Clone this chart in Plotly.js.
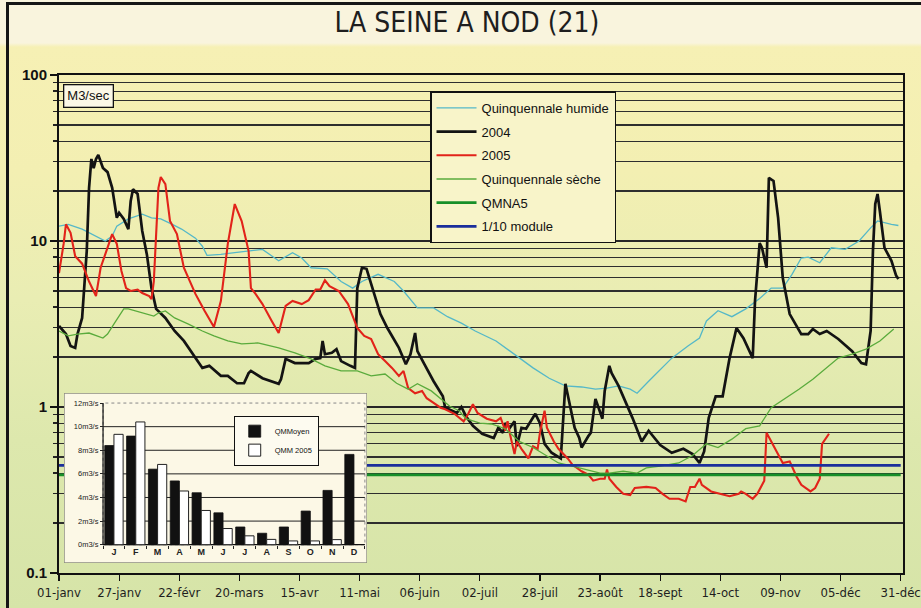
<!DOCTYPE html>
<html>
<head>
<meta charset="utf-8">
<script src="https://cdn.plot.ly/plotly-3.0.1.min.js"></script>
<style>
html,body{margin:0;padding:0;background:#fff;}
#chart{position:relative;width:921px;height:608px;overflow:hidden;
background:linear-gradient(to bottom,#f9f4dd 0px,#f9f4dd 43px,#f6f0b4 47px,#f3efb2 170px,#e9edb3 300px,#dde8ad 440px,#d6e4a8 608px);}
#chart::after{content:"";position:absolute;left:6px;top:2px;width:930px;height:630px;border-top:3px solid #151515;border-left:3px solid #151515;pointer-events:none;z-index:20;}
</style>
</head>
<body>
<div id="chart"></div>
<script>
// ---- main chart data (day of year, flow m3/s) ----
var tickDays = [0,26,52,78,104,130,156,182,208,234,260,286,312,338,364];
var tickLabels = ['01-janv','27-janv','22-févr','20-mars','15-avr','11-mai','06-juin','02-juil','28-juil','23-août','18-sept','14-oct','09-nov','05-déc','31-déc'];

var daysHum = [0,4,10,16,20,23,25,30,36,40,44,49,53,59,62,64,70,76,82,88,95,101,105,109,116,122,127,131,138,145,149,155,162,168,174,180,189,198,205,212,219,226,232,237,242,247,250,255,261,265,272,277,280,285,291,297,303,308,313,317,321,324,329,334,340,346,351,354,360,363];
var qHum = [12.3,12.6,11.8,10.7,10.0,10.7,12.3,13.6,14.5,13.8,13.6,12.6,11.8,10.4,9.3,8.2,8.3,8.5,8.7,8.9,7.6,8.5,7.9,6.9,6.8,5.7,5.2,5.7,6.3,5.7,5.0,3.95,3.95,3.5,3.2,2.87,2.5,2.03,1.72,1.49,1.34,1.32,1.28,1.30,1.34,1.28,1.21,1.43,1.72,1.97,2.33,2.6,3.3,3.8,3.5,3.9,4.5,5.2,5.2,6.3,7.9,8.0,7.4,9.1,8.9,10.0,12.0,13.2,12.6,12.4];

var days2004 = [0,3,5,7,8,10,12,13,14,15,16,17,19,21,23,25,26,28,30,31,32,34,36,38,40,42,46,50,54,59,62,65,70,73,77,80,82,83,88,95,96,98,102,108,111,113,114,115,118,120,122,126,128,129,131,133,135,139,142,147,150,152,154,155,158,162,166,167,170,172,174,176,179,183,188,190,192,193,195,197,198,200,202,206,208,210,213,217,219,221,223,225,226,229,230,232,235,236,238,239,242,248,252,255,260,265,270,274,277,279,281,284,287,290,293,296,300,301,303,304,306,307,309,311,313,316,321,324,326,329,332,337,343,347,349,351,352,353,354,355,357,360,362,363];
var q2004 = [3.08,2.75,2.33,2.27,2.75,3.44,8.7,20.9,31.2,27.5,31.2,33,27.5,26,20.9,13.8,14.8,13.6,11.8,17.4,20.5,19.2,11.5,8.3,5.2,3.9,3.44,2.87,2.5,1.97,1.72,1.77,1.54,1.54,1.39,1.39,1.6,1.65,1.49,1.38,1.47,1.95,1.84,1.84,1.95,1.97,2.5,2.08,2.12,2.23,1.89,1.77,1.72,5.2,6.9,6.8,5.5,3.63,2.99,2.27,1.81,2.08,2.79,2.17,1.81,1.43,1.16,0.99,0.95,0.92,1.0,0.88,0.77,0.69,0.65,0.75,0.70,0.80,0.75,0.82,0.58,0.75,0.74,0.91,0.80,0.60,0.53,0.49,1.38,1.04,0.75,0.65,0.57,0.67,0.70,1.12,0.85,1.25,1.77,1.6,1.34,0.86,0.62,0.72,0.59,0.53,0.56,0.52,0.46,0.54,0.86,1.16,1.16,1.97,2.99,2.6,1.97,4.35,9.7,9.1,6.9,24,23,13.8,6.0,3.63,2.75,2.75,2.95,2.75,2.87,2.57,2.17,1.84,1.81,2.87,8.7,16.7,19.2,15.1,9.1,7.6,6.2,5.9];

var days2005 = [0,2,3,5,7,10,13,16,18,21,23,25,27,29,31,34,36,39,40,41,43,44,46,48,51,54,59,63,66,67,70,73,76,79,82,83,85,88,92,95,98,101,105,108,111,113,115,117,121,125,129,132,135,138,141,144,147,149,151,154,157,159,162,165,167,171,175,177,179,181,185,189,191,193,194,195,197,198,200,203,205,207,208,210,211,214,216,220,222,226,229,231,234,236,237,238,241,244,247,249,254,258,261,264,268,271,273,275,277,278,282,286,290,294,295,297,300,302,304,305,306,308,310,313,316,319,321,325,327,329,330,333];
var q2005 = [6.4,9.6,12.6,11.2,8.1,7.3,5.7,4.66,6.9,9.1,11,9.6,6.6,5.2,5.0,5.1,4.86,4.66,4.47,5.7,20.9,24.3,22,13.2,11,6.9,4.8,3.79,3.2,3.03,4.35,9.6,16.7,13.2,8.7,5.2,4.8,4.17,3.3,2.79,4.06,4.35,4.17,4.4,5.1,5.1,5.8,5.35,5.0,4.17,2.99,2.68,2.57,2.08,1.89,1.72,1.54,1.65,1.30,1.21,1.25,1.13,1.06,0.99,0.97,0.91,0.82,0.91,1.04,0.92,0.85,0.82,0.86,0.72,0.82,0.69,0.52,0.62,0.56,0.49,0.58,0.56,0.70,0.95,0.75,0.62,0.56,0.49,0.45,0.41,0.39,0.36,0.37,0.37,0.42,0.37,0.33,0.30,0.295,0.325,0.33,0.325,0.30,0.28,0.28,0.27,0.33,0.33,0.37,0.34,0.31,0.30,0.29,0.30,0.31,0.30,0.28,0.30,0.34,0.36,0.70,0.62,0.56,0.46,0.47,0.38,0.34,0.31,0.325,0.37,0.60,0.69];

var daysSec = [0,4,8,13,19,21,24,28,30,36,41,43,46,50,56,62,67,73,79,86,95,102,109,115,122,129,135,141,146,151,155,161,165,169,173,176,182,187,193,199,205,211,216,222,228,234,238,244,250,254,260,264,268,274,280,285,291,297,303,308,314,320,326,332,337,343,349,355,361];
var qSec = [2.87,2.68,2.75,2.79,2.6,2.75,3.2,3.9,3.9,3.68,3.53,3.68,3.79,3.44,3.16,2.87,2.68,2.5,2.4,2.43,2.27,2.12,1.95,1.77,1.65,1.65,1.54,1.58,1.39,1.28,1.38,1.25,1.12,1.01,0.95,0.85,0.80,0.79,0.74,0.62,0.57,0.51,0.46,0.44,0.42,0.40,0.40,0.41,0.40,0.43,0.44,0.45,0.46,0.51,0.60,0.57,0.64,0.74,0.77,0.99,1.12,1.28,1.47,1.72,1.97,2.08,2.23,2.5,2.95];

var qmna5 = 0.39;
var module10 = 0.445;

var yTickVals = [0.1,1,10,100];
var yTickText = ['0.1','1','10','100'];
var yMinorVals = [0.2,0.3,0.4,0.5,0.6,0.7,0.8,0.9,2,3,4,5,6,7,8,9,20,30,40,50,60,70,80,90];

// ---- inset chart data ----
var months = ['J','F','M','A','M','J','J','A','S','O','N','D'];
var monthIdx = [0,1,2,3,4,5,6,7,8,9,10,11];
var qmMoyen = [8.4,9.2,6.4,5.4,4.4,2.7,1.5,0.97,1.5,2.85,4.6,7.65];
var qmm2005 = [9.35,10.4,6.8,4.55,2.9,1.37,0.75,0.45,0.32,0.32,0.43,null];
var insetTicks = [0,2,4,6,8,10,12];
var insetTickText = ['0m3/s','2m3/s','4m3/s','6m3/s','8m3/s','10m3/s','12m3/s'];
var insetGrid = [2,4,6,8,10];
var insetBounds = [-0.5,0.5,1.5,2.5,3.5,4.5,5.5,6.5,7.5,8.5,9.5,10.5,11.5];

var insetXRange = [-2.29, 11.6];
var insetYRange = [-1.55, 12.85];

var narrow = 'Liberation Sans Narrow, Arial Narrow, DejaVu Sans Condensed, sans-serif';
var sans = 'Liberation Sans, Arial, sans-serif';

var traces = [
  {x: daysHum, y: qHum, name: 'Quinquennale humide', mode: 'lines', line: {color: '#55b8c8', width: 1.3}, legendgroup: 'g1'},
  {x: days2004, y: q2004, name: '2004', mode: 'lines', line: {color: '#131313', width: 2.7}, legendgroup: 'g2'},
  {x: days2005, y: q2005, name: '2005', mode: 'lines', line: {color: '#e2231a', width: 2.1}, legendgroup: 'g3'},
  {x: daysSec, y: qSec, name: 'Quinquennale sèche', mode: 'lines', line: {color: '#5aab3c', width: 1.3}, legendgroup: 'g4'},
  {x: [tickDays[0], tickDays[tickDays.length-1]], y: [qmna5, qmna5], name: 'QMNA5', mode: 'lines', line: {color: '#178f28', width: 2.8}, legendgroup: 'g5'},
  {x: [tickDays[0], tickDays[tickDays.length-1]], y: [module10, module10], name: '1/10 module', mode: 'lines', line: {color: '#1b2e9b', width: 2.8}, legendgroup: 'g6'},
  {type: 'bar', x: monthIdx, y: qmMoyen, name: 'QMMoyen', xaxis: 'x2', yaxis: 'y2', legend: 'legend2',
   marker: {color: '#111', line: {color: '#111', width: 0.8}}},
  {type: 'bar', x: monthIdx, y: qmm2005, name: 'QMM 2005', xaxis: 'x2', yaxis: 'y2', legend: 'legend2',
   marker: {color: '#ffffff', line: {color: '#222', width: 1}}}
];

var shapes = [
  {type: 'rect', xref: 'x2', yref: 'y2', x0: insetXRange[0], x1: insetXRange[1], y0: insetYRange[0], y1: insetYRange[1],
   fillcolor: '#fcf8e6', line: {color: '#8c8c80', width: 1.5}, layer: 'below'},
  {type: 'rect', xref: 'x2', yref: 'y2', x0: insetBounds[0], x1: insetBounds[insetBounds.length-1], y0: insetTicks[0], y1: insetTicks[insetTicks.length-1],
   fillcolor: 'rgba(0,0,0,0)', line: {color: '#888', width: 1, dash: 'dot'}, layer: 'below'}
];
insetGrid.forEach(function (g) {
  shapes.push({type: 'line', xref: 'x2', yref: 'y2', x0: insetBounds[0], x1: insetBounds[insetBounds.length-1], y0: g, y1: g,
    line: {color: '#222', width: 1}, layer: 'below'});
});
shapes.push({type: 'line', xref: 'x2', yref: 'y2', x0: insetBounds[0], x1: insetBounds[0], y0: insetTicks[0], y1: insetTicks[insetTicks.length-1], line: {color: '#111', width: 1.2}, layer: 'below'});
shapes.push({type: 'line', xref: 'x2', yref: 'y2', x0: insetBounds[0], x1: insetBounds[insetBounds.length-1], y0: 0, y1: 0, line: {color: '#111', width: 1.2}, layer: 'below'});

var layout = {
  width: 921, height: 608,
  margin: {l: 59, r: 18, t: 75, b: 35},
  paper_bgcolor: 'rgba(0,0,0,0)',
  plot_bgcolor: 'rgba(0,0,0,0)',
  title: {text: 'LA SEINE A NOD (21)', font: {family: narrow, size: 28, color: '#1e1e1e'},
          xref: 'container', x: 0.507, xanchor: 'center', yref: 'container', y: 0.963, yanchor: 'middle'},
  showlegend: true,
  bargap: 0.16, bargroupgap: 0, barmode: 'group',
  xaxis: {range: [0, 365], tickmode: 'array', tickvals: tickDays, ticktext: tickLabels,
          ticks: 'outside', ticklen: 6, tickcolor: '#111', tickwidth: 1.2,
          showline: true, linecolor: '#111', linewidth: 2, mirror: true,
          showgrid: false, zeroline: false,
          tickfont: {family: narrow, size: 13, color: '#1e1e1e'}},
  yaxis: {type: 'log', range: [-1, 2], tickmode: 'array', tickvals: yTickVals, ticktext: yTickText,
          ticks: 'outside', ticklen: 7, tickcolor: '#111', tickwidth: 1.2,
          showline: true, linecolor: '#111', linewidth: 2, mirror: true,
          showgrid: true, gridcolor: '#262626', gridwidth: 1.3, zeroline: false,
          tickfont: {family: sans, size: 15, color: '#111', weight: 'bold'},
          minor: {tickmode: 'array', tickvals: yMinorVals, ticks: 'outside', ticklen: 4, tickcolor: '#222',
                  showgrid: true, gridcolor: '#2e2e2e', gridwidth: 1.1}},
  xaxis2: {domain: [0.0059, 0.365], anchor: 'free', position: 0.0562, range: insetXRange,
           tickmode: 'array', tickvals: monthIdx, ticktext: months, ticks: '',
           showgrid: false, zeroline: false, showline: false,
           tickfont: {family: sans, size: 9, color: '#222', weight: 'bold'},
           minor: {tickmode: 'array', tickvals: insetBounds, ticks: 'outside', ticklen: 3, tickcolor: '#222', showgrid: false}},
  yaxis2: {domain: [0.0201, 0.3614], anchor: 'free', position: 0.0521, range: insetYRange,
           tickmode: 'array', tickvals: insetTicks, ticktext: insetTickText, ticks: 'outside', ticklen: 3, tickcolor: '#222',
           showgrid: false, zeroline: false, showline: false,
           tickfont: {family: sans, size: 7.5, color: '#222'}},
  legend: {x: 0.4396, y: 0.967, xanchor: 'left', yanchor: 'top', bgcolor: '#f8f4c9', bordercolor: '#111', borderwidth: 1.5,
           font: {family: sans, size: 13, color: '#111'}, itemwidth: 40, tracegroupgap: 3.8},
  legend2: {x: 0.207, y: 0.316, xanchor: 'left', yanchor: 'top', bgcolor: '#fdfbf0', bordercolor: '#111', borderwidth: 1,
            font: {family: sans, size: 7.5, color: '#111'}, itemwidth: 30, tracegroupgap: 0},
  shapes: shapes,
  annotations: [
    {text: 'M3/sec', xref: 'paper', yref: 'paper', x: 0.005, y: 0.982, xanchor: 'left', yanchor: 'top', showarrow: false,
     font: {family: sans, size: 13, color: '#111'}, bgcolor: '#fbf8e6', bordercolor: '#111', borderwidth: 1.3, borderpad: 3}
  ]
};

Plotly.newPlot('chart', traces, layout, {staticPlot: true, displayModeBar: false});
</script>
</body>
</html>
